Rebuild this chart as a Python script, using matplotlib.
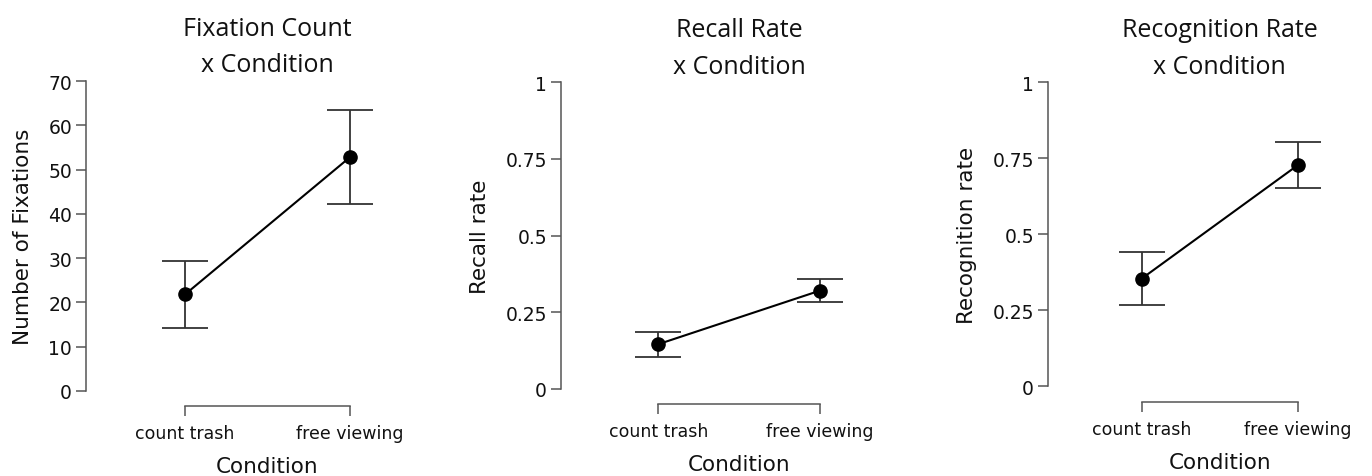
import matplotlib
matplotlib.use("Agg")
import matplotlib.pyplot as plt
import numpy as np

# data
conditions = ["count trash", "free viewing"]

fix_mean = [21.8, 52.8]
fix_low = [14.3, 42.2]
fix_high = [29.3, 63.5]

recall_mean = [0.146, 0.321]
recall_low = [0.105, 0.285]
recall_high = [0.187, 0.358]

recog_mean = [0.354, 0.727]
recog_low = [0.268, 0.651]
recog_high = [0.441, 0.804]

titles = ["Fixation Count\nx Condition", "Recall Rate\nx Condition", "Recognition Rate\nx Condition"]
ylabels = ["Number of Fixations", "Recall rate", "Recognition rate"]
yticks_list = [[0, 10, 20, 30, 40, 50, 60, 70], [0, 0.25, 0.5, 0.75, 1], [0, 0.25, 0.5, 0.75, 1]]
yticklabels_list = [["0", "10", "20", "30", "40", "50", "60", "70"],
                    ["0", "0.25", "0.5", "0.75", "1"],
                    ["0", "0.25", "0.5", "0.75", "1"]]

W, H = 1372, 477
# pixel layout: (spine x, px per category, y top px, y bottom px)
layout = [(86, 165, 82, 392), (561, 162, 83.3, 390), (1048, 156, 83.3, 387.3)]

fig = plt.figure(figsize=(W / 100, H / 100), dpi=100)

series = [(fix_mean, fix_low, fix_high), (recall_mean, recall_low, recall_high),
          (recog_mean, recog_low, recog_high)]

spine_col = "#555555"
for i in range(3):
    sx, step, ytop, ybot = layout[i]
    left_off = 0.6
    width_px = step * (1 + 2 * left_off)
    ax = fig.add_axes([(sx) / W, (H - ybot) / H, width_px / W, (ybot - ytop) / H])
    m, lo, hi = series[i]
    m = np.array(m)
    err = [m - np.array(lo), np.array(hi) - m]
    x = np.arange(len(conditions))
    ax.errorbar(x, m, yerr=err, fmt="none", ecolor="#333333", elinewidth=1.3,
                capsize=16.5, capthick=1.3, zorder=2)
    ax.plot(x, m, color="black", lw=1.5, marker="o", ms=9.5, zorder=3)

    yt = yticks_list[i]
    ax.set_xlim(-left_off, 1 + left_off)
    ax.set_ylim(yt[0], yt[-1])
    ax.set_yticks(yt)
    ax.set_yticklabels(yticklabels_list[i])
    ax.set_xticks(x)
    ax.set_xticklabels(conditions)

    for s in ["top", "right"]:
        ax.spines[s].set_visible(False)
    ax.spines["left"].set_bounds(yt[0], yt[-1])
    ax.spines["bottom"].set_bounds(0, 1)
    ax.spines["bottom"].set_position(("outward", 11))
    for s in ["left", "bottom"]:
        ax.spines[s].set_color(spine_col)
        ax.spines[s].set_linewidth(1.1)
    ax.tick_params(axis="both", colors=spine_col, width=1.1, length=7,
                   labelcolor="#111111")
    ax.tick_params(axis="y", pad=3, labelsize=13.5)
    ax.tick_params(axis="x", pad=6, labelsize=12.5)
    ax.patch.set_alpha(0)

    ax.set_ylabel(ylabels[i], fontsize=15.5, labelpad=11, color="#111111")
    ax.set_xlabel("Condition", fontsize=15.5, labelpad=10, color="#111111")
    ax.set_title(titles[i], fontsize=18, family="Open Sans", linespacing=1.6, pad=7,
                 color="#111111")

fig.savefig("out.png", dpi=100)
